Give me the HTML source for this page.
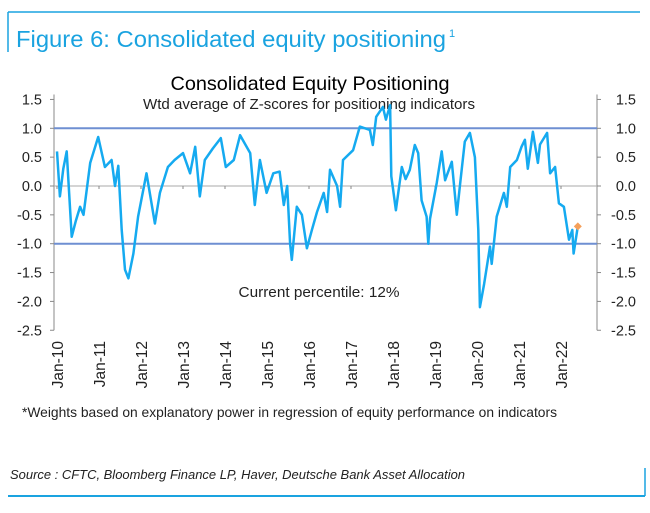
<!DOCTYPE html>
<html><head><meta charset="utf-8"><style>
body{margin:0;background:#fff;}
svg text{font-family:"Liberation Sans",sans-serif;}
</style></head><body>
<svg width="650" height="508" viewBox="0 0 650 508" xmlns="http://www.w3.org/2000/svg">
<line x1="8" y1="12" x2="640" y2="12" stroke="#1aa3e0" stroke-width="1.5"/>
<line x1="8" y1="12" x2="8" y2="52" stroke="#1aa3e0" stroke-width="1.5"/>
<text x="16" y="47" font-size="23.5" fill="#1aa3e0" textLength="430" lengthAdjust="spacingAndGlyphs">Figure 6: Consolidated equity positioning</text>
<text x="449" y="37" font-size="11" fill="#1aa3e0">1</text>
<text x="310" y="90" font-size="19.5" text-anchor="middle" fill="#000" textLength="279" lengthAdjust="spacingAndGlyphs">Consolidated Equity Positioning</text>
<text x="309" y="109" font-size="15" text-anchor="middle" fill="#222" textLength="332" lengthAdjust="spacingAndGlyphs">Wtd average of Z-scores for positioning indicators</text>
<g id="axes"></g>
<g id="plot"></g>
<text x="319" y="297" font-size="15" text-anchor="middle" fill="#222" textLength="161" lengthAdjust="spacingAndGlyphs">Current percentile: 12%</text>
<text x="22" y="417" font-size="13.8" fill="#222" textLength="535" lengthAdjust="spacingAndGlyphs">*Weights based on explanatory power in regression of equity performance on indicators</text>
<text x="10" y="479" font-size="13" font-style="italic" fill="#222" textLength="455" lengthAdjust="spacingAndGlyphs">Source : CFTC, Bloomberg Finance LP, Haver, Deutsche Bank Asset Allocation</text>
<line x1="8" y1="496" x2="645" y2="496" stroke="#1aa3e0" stroke-width="2"/>
<line x1="645" y1="468" x2="645" y2="496" stroke="#1aa3e0" stroke-width="1.5"/>
</svg>
<script>
const yTicks=[1.5,1.0,0.5,0.0,-0.5,-1.0,-1.5,-2.0,-2.5];
const xYears=[2010,2011,2012,2013,2014,2015,2016,2017,2018,2019,2020,2021,2022];
const dates=[2010.0,2010.07,2010.15,2010.23,2010.35,2010.45,2010.55,2010.63,2010.79,2010.98,2011.14,2011.3,2011.38,2011.46,2011.54,2011.62,2011.7,2011.82,2011.93,2012.13,2012.33,2012.45,2012.64,2012.8,2013.0,2013.17,2013.29,2013.4,2013.52,2013.71,2013.9,2014.02,2014.21,2014.36,2014.6,2014.71,2014.83,2014.99,2015.15,2015.3,2015.4,2015.48,2015.55,2015.59,2015.71,2015.83,2015.95,2016.07,2016.19,2016.35,2016.43,2016.5,2016.67,2016.74,2016.81,2017.05,2017.21,2017.45,2017.52,2017.6,2017.76,2017.83,2017.93,2017.96,2018.07,2018.21,2018.3,2018.4,2018.52,2018.6,2018.68,2018.8,2018.84,2018.88,2019.04,2019.16,2019.24,2019.4,2019.52,2019.6,2019.71,2019.83,2019.95,2020.03,2020.07,2020.17,2020.31,2020.35,2020.47,2020.64,2020.71,2020.79,2020.95,2021.06,2021.14,2021.21,2021.33,2021.45,2021.5,2021.67,2021.74,2021.86,2021.95,2022.07,2022.19,2022.27,2022.3,2022.4];
const values=[0.6,-0.18,0.3,0.6,-0.88,-0.6,-0.36,-0.5,0.4,0.85,0.33,0.45,0.0,0.35,-0.76,-1.45,-1.6,-1.17,-0.53,0.22,-0.65,-0.12,0.33,0.45,0.57,0.22,0.68,-0.18,0.45,0.65,0.83,0.33,0.45,0.88,0.57,-0.33,0.45,-0.12,0.22,0.25,-0.33,0.0,-1.0,-1.28,-0.36,-0.5,-1.08,-0.76,-0.45,-0.12,-0.45,0.28,0.0,-0.36,0.45,0.62,1.03,0.97,0.71,1.2,1.37,1.15,1.4,0.17,-0.42,0.33,0.12,0.28,0.71,0.57,-0.25,-0.53,-1.0,-0.57,0.05,0.6,0.1,0.42,-0.5,0.05,0.77,0.92,0.5,-0.76,-2.1,-1.7,-1.05,-1.35,-0.53,-0.12,-0.36,0.33,0.45,0.68,0.8,0.3,0.94,0.4,0.72,0.92,0.22,0.33,-0.3,-0.36,-0.93,-0.76,-1.17,-0.7];
const current=[2022.4,-0.7];
const NS="http://www.w3.org/2000/svg";
function X(d){return 57+(d-2010)*42;}
function Y(v){return 186-v*57.7;}
function mk(tag,attrs,parent){const e=document.createElementNS(NS,tag);for(const k in attrs)e.setAttribute(k,attrs[k]);parent.appendChild(e);return e;}
const ax=document.getElementById('axes'),pl=document.getElementById('plot');
let e;
e=mk('line',{x1:54,y1:Y(1.5)-5,x2:54,y2:Y(-2.5),stroke:'#888','stroke-width':1},ax);


e=mk('line',{x1:597,y1:Y(1.5)-5,x2:597,y2:Y(-2.5),stroke:'#888','stroke-width':1},ax);


yTicks.forEach(v=>{
 mk('line',{x1:50,y1:Y(v),x2:54,y2:Y(v),stroke:'#888'},ax);
 mk('line',{x1:597,y1:Y(v),x2:601,y2:Y(v),stroke:'#888'},ax);
 let t=mk('text',{x:42,y:Y(v)+5,'font-size':14.5,'text-anchor':'end',fill:'#222'},ax);t.textContent=v.toFixed(1);
 
 
 t=mk('text',{x:636,y:Y(v)+5,'font-size':14.5,'text-anchor':'end',fill:'#222'},ax);t.textContent=v.toFixed(1);
 
 
});
e=mk('line',{x1:54,y1:Y(0),x2:597,y2:Y(0),stroke:'#aaa','stroke-width':1},ax);


[1,-1].forEach(v=>{e=mk('line',{x1:54,y1:Y(v),x2:597,y2:Y(v),stroke:'#6f8fd2','stroke-width':2},ax);

});
xYears.forEach(yr=>{
 mk('line',{x1:X(yr),y1:Y(0),x2:X(yr),y2:Y(0)+3,stroke:'#888'},ax);
 const t=mk('text',{x:0,y:0,'font-size':15.5,'text-anchor':'end',fill:'#222',transform:`translate(${X(yr)+6},341) rotate(-90)`},ax);
 t.textContent='Jan-'+String(yr).slice(2);
 
 
});
const p=mk('polyline',{points:dates.map((d,i)=>X(d).toFixed(1)+','+Y(values[i]).toFixed(1)).join(' '),fill:'none',stroke:'#15aaf0','stroke-width':2.5,'stroke-linejoin':'round'},pl);


const cx=X(current[0]),cy=Y(current[1]);
const dm=mk('polygon',{points:`${cx},${cy-4} ${cx+4},${cy} ${cx},${cy+4} ${cx-4},${cy}`,fill:'#f5a05a'},pl);


</script>
</body></html>
